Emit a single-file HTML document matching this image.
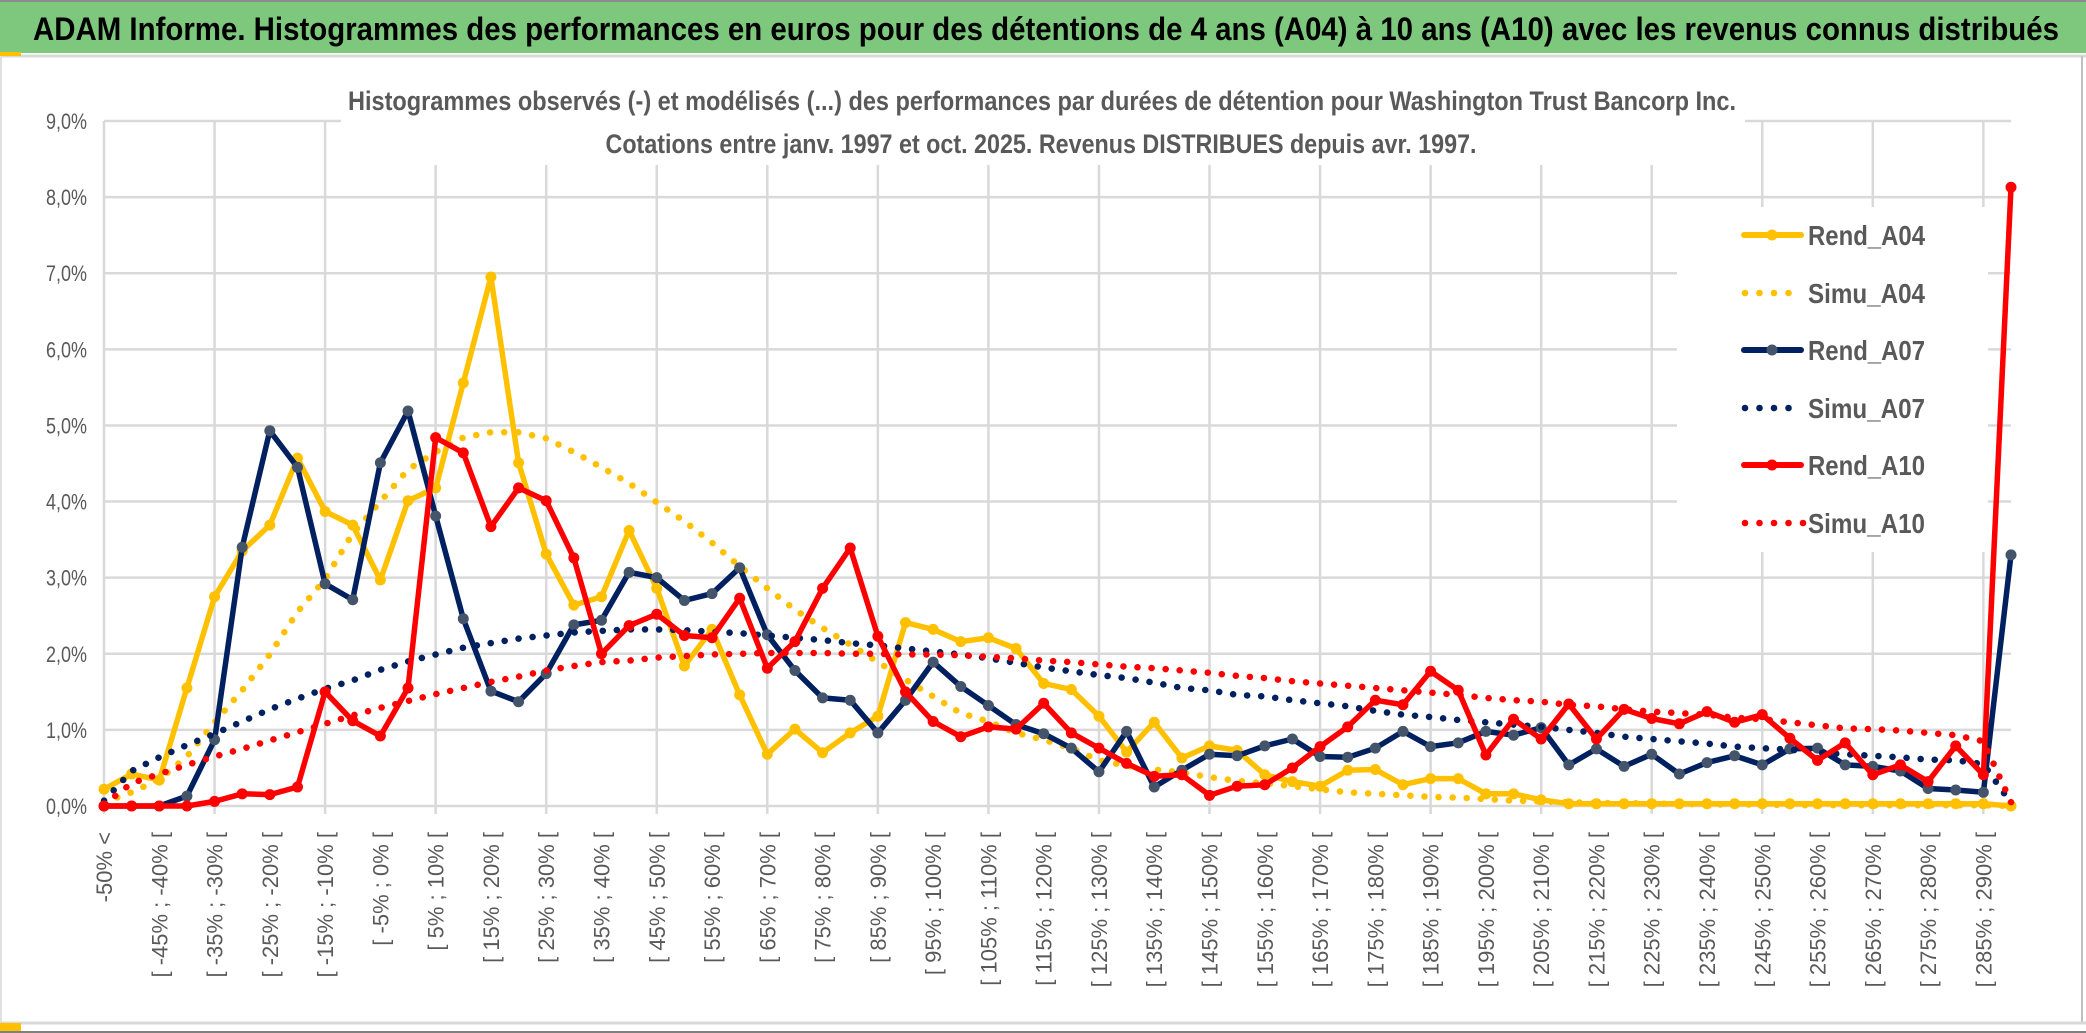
<!DOCTYPE html>
<html><head><meta charset="utf-8"><style>
html,body{margin:0;padding:0;background:#fff;}
svg{display:block;}
text{font-family:"Liberation Sans",sans-serif;}
</style></head><body>
<svg id="chart" width="2086" height="1033" viewBox="0 0 2086 1033" xmlns="http://www.w3.org/2000/svg">
<rect x="0" y="0" width="2086" height="1033" fill="#fff"/>
<line x1="0" y1="1" x2="2086" y2="1" stroke="#8c8c8c" stroke-width="2"/>
<rect x="0" y="2" width="2086" height="51" fill="#7ec87e"/>
<text x="33" y="40" font-size="32" font-weight="bold" fill="#000" textLength="2026" lengthAdjust="spacingAndGlyphs">ADAM Informe. Histogrammes des performances en euros pour des détentions de 4 ans (A04) à 10 ans (A10) avec les revenus connus distribués</text>
<line x1="0" y1="56" x2="2086" y2="56" stroke="#d9d9d9" stroke-width="3"/>
<rect x="0" y="52" width="21" height="4" fill="#ffc000"/>
<line x1="2082" y1="56" x2="2082" y2="1023" stroke="#bfbfbf" stroke-width="2"/>
<line x1="1" y1="56" x2="1" y2="1023" stroke="#e0e0e0" stroke-width="2"/>
<line x1="0" y1="1023" x2="2086" y2="1023" stroke="#d9d9d9" stroke-width="3"/>
<rect x="0" y="1023" width="21" height="8" fill="#ffc000"/>
<line x1="0" y1="1032" x2="2086" y2="1032" stroke="#7f7f7f" stroke-width="2"/>
<g id="grid"></g>
<g id="yaxis"></g>
<g id="xaxis"></g>
<g id="series"></g>
<rect x="341" y="78" width="1404" height="87" fill="#fff"/>
<text x="1042" y="110" font-size="27" font-weight="bold" fill="#595959" text-anchor="middle" textLength="1388" lengthAdjust="spacingAndGlyphs">Histogrammes observés (-) et modélisés (...) des performances par durées de détention pour Washington Trust Bancorp Inc.</text>
<text x="1041" y="153" font-size="27" font-weight="bold" fill="#595959" text-anchor="middle" textLength="871" lengthAdjust="spacingAndGlyphs">Cotations entre janv. 1997 et oct. 2025. Revenus DISTRIBUES depuis avr. 1997.</text>
<g id="legend"></g>
</svg>
<script>
const categories = ["-50% <","[ -50% ; -45% [","[ -45% ; -40% [","[ -40% ; -35% [","[ -35% ; -30% [","[ -30% ; -25% [","[ -25% ; -20% [","[ -20% ; -15% [","[ -15% ; -10% [","[ -10% ; -5% [","[ -5% ; 0% [","[ 0% ; 5% [","[ 5% ; 10% [","[ 10% ; 15% [","[ 15% ; 20% [","[ 20% ; 25% [","[ 25% ; 30% [","[ 30% ; 35% [","[ 35% ; 40% [","[ 40% ; 45% [","[ 45% ; 50% [","[ 50% ; 55% [","[ 55% ; 60% [","[ 60% ; 65% [","[ 65% ; 70% [","[ 70% ; 75% [","[ 75% ; 80% [","[ 80% ; 85% [","[ 85% ; 90% [","[ 90% ; 95% [","[ 95% ; 100% [","[ 100% ; 105% [","[ 105% ; 110% [","[ 110% ; 115% [","[ 115% ; 120% [","[ 120% ; 125% [","[ 125% ; 130% [","[ 130% ; 135% [","[ 135% ; 140% [","[ 140% ; 145% [","[ 145% ; 150% [","[ 150% ; 155% [","[ 155% ; 160% [","[ 160% ; 165% [","[ 165% ; 170% [","[ 170% ; 175% [","[ 175% ; 180% [","[ 180% ; 185% [","[ 185% ; 190% [","[ 190% ; 195% [","[ 195% ; 200% [","[ 200% ; 205% [","[ 205% ; 210% [","[ 210% ; 215% [","[ 215% ; 220% [","[ 220% ; 225% [","[ 225% ; 230% [","[ 230% ; 235% [","[ 235% ; 240% [","[ 240% ; 245% [","[ 245% ; 250% [","[ 250% ; 255% [","[ 255% ; 260% [","[ 260% ; 265% [","[ 265% ; 270% [","[ 270% ; 275% [","[ 275% ; 280% [","[ 280% ; 285% [","[ 285% ; 290% [","> 290%"];
const rendA04 = [0.22,0.42,0.34,1.55,2.75,3.35,3.69,4.57,3.87,3.69, 2.97,4.01,4.18,5.56,6.95,4.51,3.31,2.64,2.75,3.62, 2.86,1.84,2.32,1.46,0.68,1.01,0.70,0.96,1.18,2.41, 2.32,2.16,2.21,2.07,1.61,1.53,1.18,0.71,1.10,0.63, 0.79,0.73,0.41,0.32,0.26,0.47,0.48,0.28,0.36,0.36, 0.16,0.16,0.08,0.03,0.03,0.03,0.03,0.03,0.03,0.03, 0.03,0.03,0.03,0.03,0.03,0.03,0.03,0.03,0.03,0.0];
const simuA04 = [0.05,0.18,0.35,0.65,1.10,1.52,1.99,2.55,2.98,3.58, 4.00,4.42,4.65,4.84,4.91,4.91,4.83,4.65,4.45,4.24, 3.99,3.74,3.46,3.15,2.86,2.58,2.34,2.12,1.89,1.66, 1.44,1.22,1.11,0.96,0.87,0.76,0.60,0.53,0.48,0.44, 0.38,0.33,0.30,0.26,0.22,0.18,0.16,0.14,0.12,0.11, 0.09,0.07,0.06,0.05,0.04,0.04,0.03,0.03,0.02,0.02, 0.02,0.01,0.01,0.01,0.01,0.01,0.01,0.01,0.01,0.0];
const rendA07 = [0,0,0,0.13,0.87,3.40,4.93,4.45,2.92,2.71, 4.51,5.19,3.81,2.46,1.51,1.37,1.74,2.38,2.44,3.07, 3.00,2.70,2.79,3.13,2.25,1.78,1.42,1.39,0.96,1.39, 1.89,1.57,1.32,1.07,0.95,0.76,0.45,0.98,0.25,0.47, 0.68,0.66,0.79,0.88,0.65,0.64,0.76,0.98,0.78,0.83, 0.98,0.93,1.03,0.54,0.75,0.52,0.68,0.42,0.57,0.66, 0.54,0.75,0.76,0.54,0.52,0.46,0.23,0.21,0.18,3.30];
const simuA07 = [0.07,0.46,0.64,0.80,0.95,1.11,1.27,1.41,1.54,1.65, 1.79,1.90,1.99,2.08,2.14,2.20,2.24,2.28,2.30,2.32, 2.32,2.31,2.29,2.27,2.24,2.21,2.18,2.14,2.11,2.07, 2.03,1.99,1.94,1.88,1.82,1.77,1.72,1.68,1.62,1.55, 1.52,1.46,1.44,1.39,1.35,1.31,1.25,1.20,1.17,1.13, 1.10,1.07,1.04,1.00,0.96,0.91,0.88,0.85,0.82,0.78, 0.76,0.74,0.70,0.68,0.66,0.64,0.61,0.60,0.55,0.04];
const rendA10 = [0,0,0,0,0.06,0.16,0.15,0.25,1.50,1.12, 0.92,1.55,4.84,4.64,3.67,4.18,4.01,3.26,2.00,2.37, 2.52,2.24,2.21,2.73,1.81,2.16,2.86,3.39,2.23,1.50, 1.11,0.91,1.04,1.01,1.35,0.96,0.76,0.56,0.39,0.41, 0.14,0.26,0.28,0.50,0.78,1.04,1.39,1.33,1.77,1.52, 0.67,1.14,0.88,1.34,0.88,1.27,1.15,1.08,1.24,1.10, 1.20,0.89,0.60,0.83,0.41,0.54,0.32,0.79,0.41,8.13];
const simuA10 = [0.02,0.30,0.42,0.54,0.65,0.75,0.86,0.97,1.08,1.19, 1.29,1.38,1.47,1.55,1.63,1.70,1.78,1.84,1.89,1.91, 1.95,1.97,1.99,2.00,2.01,2.01,2.01,2.00,2.00,1.99, 1.99,1.98,1.96,1.94,1.91,1.89,1.86,1.83,1.81,1.78, 1.75,1.71,1.68,1.64,1.61,1.58,1.55,1.52,1.49,1.46, 1.42,1.39,1.37,1.33,1.31,1.27,1.24,1.22,1.20,1.16, 1.14,1.10,1.06,1.02,1.01,0.99,0.96,0.93,0.85,0.05];
const yTicks = [0,1,2,3,4,5,6,7,8,9];
const yTickLabels = ["0,0%","1,0%","2,0%","3,0%","4,0%","5,0%","6,0%","7,0%","8,0%","9,0%"];

const NS = "http://www.w3.org/2000/svg";
const X0 = 104, X1 = 2011, Y0 = 806, Y9 = 121;
function xs(i){ return X0 + (X1 - X0) * i / (categories.length - 1); }
function ys(v){ return Y0 - (Y0 - Y9) * v / 9; }
function mk(tag, attrs, parent){ const e = document.createElementNS(NS, tag); for (const k in attrs) e.setAttribute(k, attrs[k]); parent.appendChild(e); return e; }

const grid = document.getElementById('grid');
yTicks.forEach(function(t){
  const l = mk('line', {x1: X0, x2: X1, y1: ys(t), y2: ys(t), stroke: '#d9d9d9', 'stroke-width': 2.5}, grid);
  
  
});
for (let i = 0; i < categories.length; i += 4) {
  const l = mk('line', {x1: xs(i), x2: xs(i), y1: ys(9), y2: Y0 + 8, stroke: '#d9d9d9', 'stroke-width': 2.5}, grid);
  
  
}
const yaxis = document.getElementById('yaxis');
yTicks.forEach(function(t, i){
  const tx = mk('text', {x: 87, y: ys(t) + 8, 'font-size': 22, fill: '#595959', 'text-anchor': 'end', textLength: 41, lengthAdjust: 'spacingAndGlyphs'}, yaxis);
  tx.textContent = yTickLabels[i];
  
  
});
const xaxis = document.getElementById('xaxis');
for (let i = 0; i < categories.length - 1; i += 2) {
  const x = xs(i) + 8, y = 832;
  const tx = mk('text', {x: x, y: y, 'font-size': 22, fill: '#595959', 'text-anchor': 'end', transform: 'rotate(-90 ' + x + ' ' + y + ')'}, xaxis);
  tx.textContent = categories[i];
  
  
}

const seriesG = document.getElementById('series');
const seriesList = [
  {name: 'Rend_A04', data: rendA04, color: '#ffc000', marker: '#ffc000', dotted: false},
  {name: 'Simu_A04', data: simuA04, color: '#ffc000', dotted: true},
  {name: 'Rend_A07', data: rendA07, color: '#002060', marker: '#44546a', dotted: false},
  {name: 'Simu_A07', data: simuA07, color: '#002060', dotted: true},
  {name: 'Rend_A10', data: rendA10, color: '#ff0000', marker: '#ff0000', dotted: false},
  {name: 'Simu_A10', data: simuA10, color: '#ff0000', dotted: true}
];
seriesList.forEach(function(s){
  const g = mk('g', {}, seriesG);
  
  
  const pts = s.data.map(function(v, i){ return xs(i).toFixed(1) + ',' + ys(v).toFixed(1); }).join(' ');
  const attrs = {points: pts, fill: 'none', stroke: s.color, 'stroke-linejoin': 'round'};
  if (s.dotted) { attrs['stroke-width'] = 6.5; attrs['stroke-dasharray'] = '0.1 14'; attrs['stroke-linecap'] = 'round'; }
  else { attrs['stroke-width'] = 5.5; }
  const pl = mk('polyline', attrs, g);
  
  
  if (!s.dotted) {
    s.data.forEach(function(v, i){
      const c = mk('circle', {cx: xs(i), cy: ys(v), r: 5.5, fill: s.marker}, g);
      
      
    });
  }
});

const legend = document.getElementById('legend');
const lb = mk('rect', {x: 1677, y: 207, width: 311, height: 345, fill: '#fff'}, legend);


const rows = [235, 293, 350, 408, 465, 523];
seriesList.forEach(function(s, i){
  const g = mk('g', {}, legend);
  
  
  const y = rows[i];
  if (s.dotted) {
    const n = s.name === 'Simu_A10' ? 5 : 4;
    for (let d = 0; d < n; d++) {
      const c = mk('circle', {cx: 1745 + d * 14.5, cy: y, r: 3.3, fill: s.color}, g);
      
      
    }
  } else {
    const l = mk('line', {x1: 1744, x2: 1801, y1: y, y2: y, stroke: s.color, 'stroke-width': 6, 'stroke-linecap': 'round'}, g);
    
    
    const c = mk('circle', {cx: 1772, cy: y, r: 5.5, fill: s.marker}, g);
    
    
  }
  const t = mk('text', {x: 1808, y: y + 10, 'font-size': 28, 'font-weight': 'bold', fill: '#595959', textLength: 117, lengthAdjust: 'spacingAndGlyphs'}, g);
  t.textContent = s.name;
  
  
});
</script>
</body></html>
